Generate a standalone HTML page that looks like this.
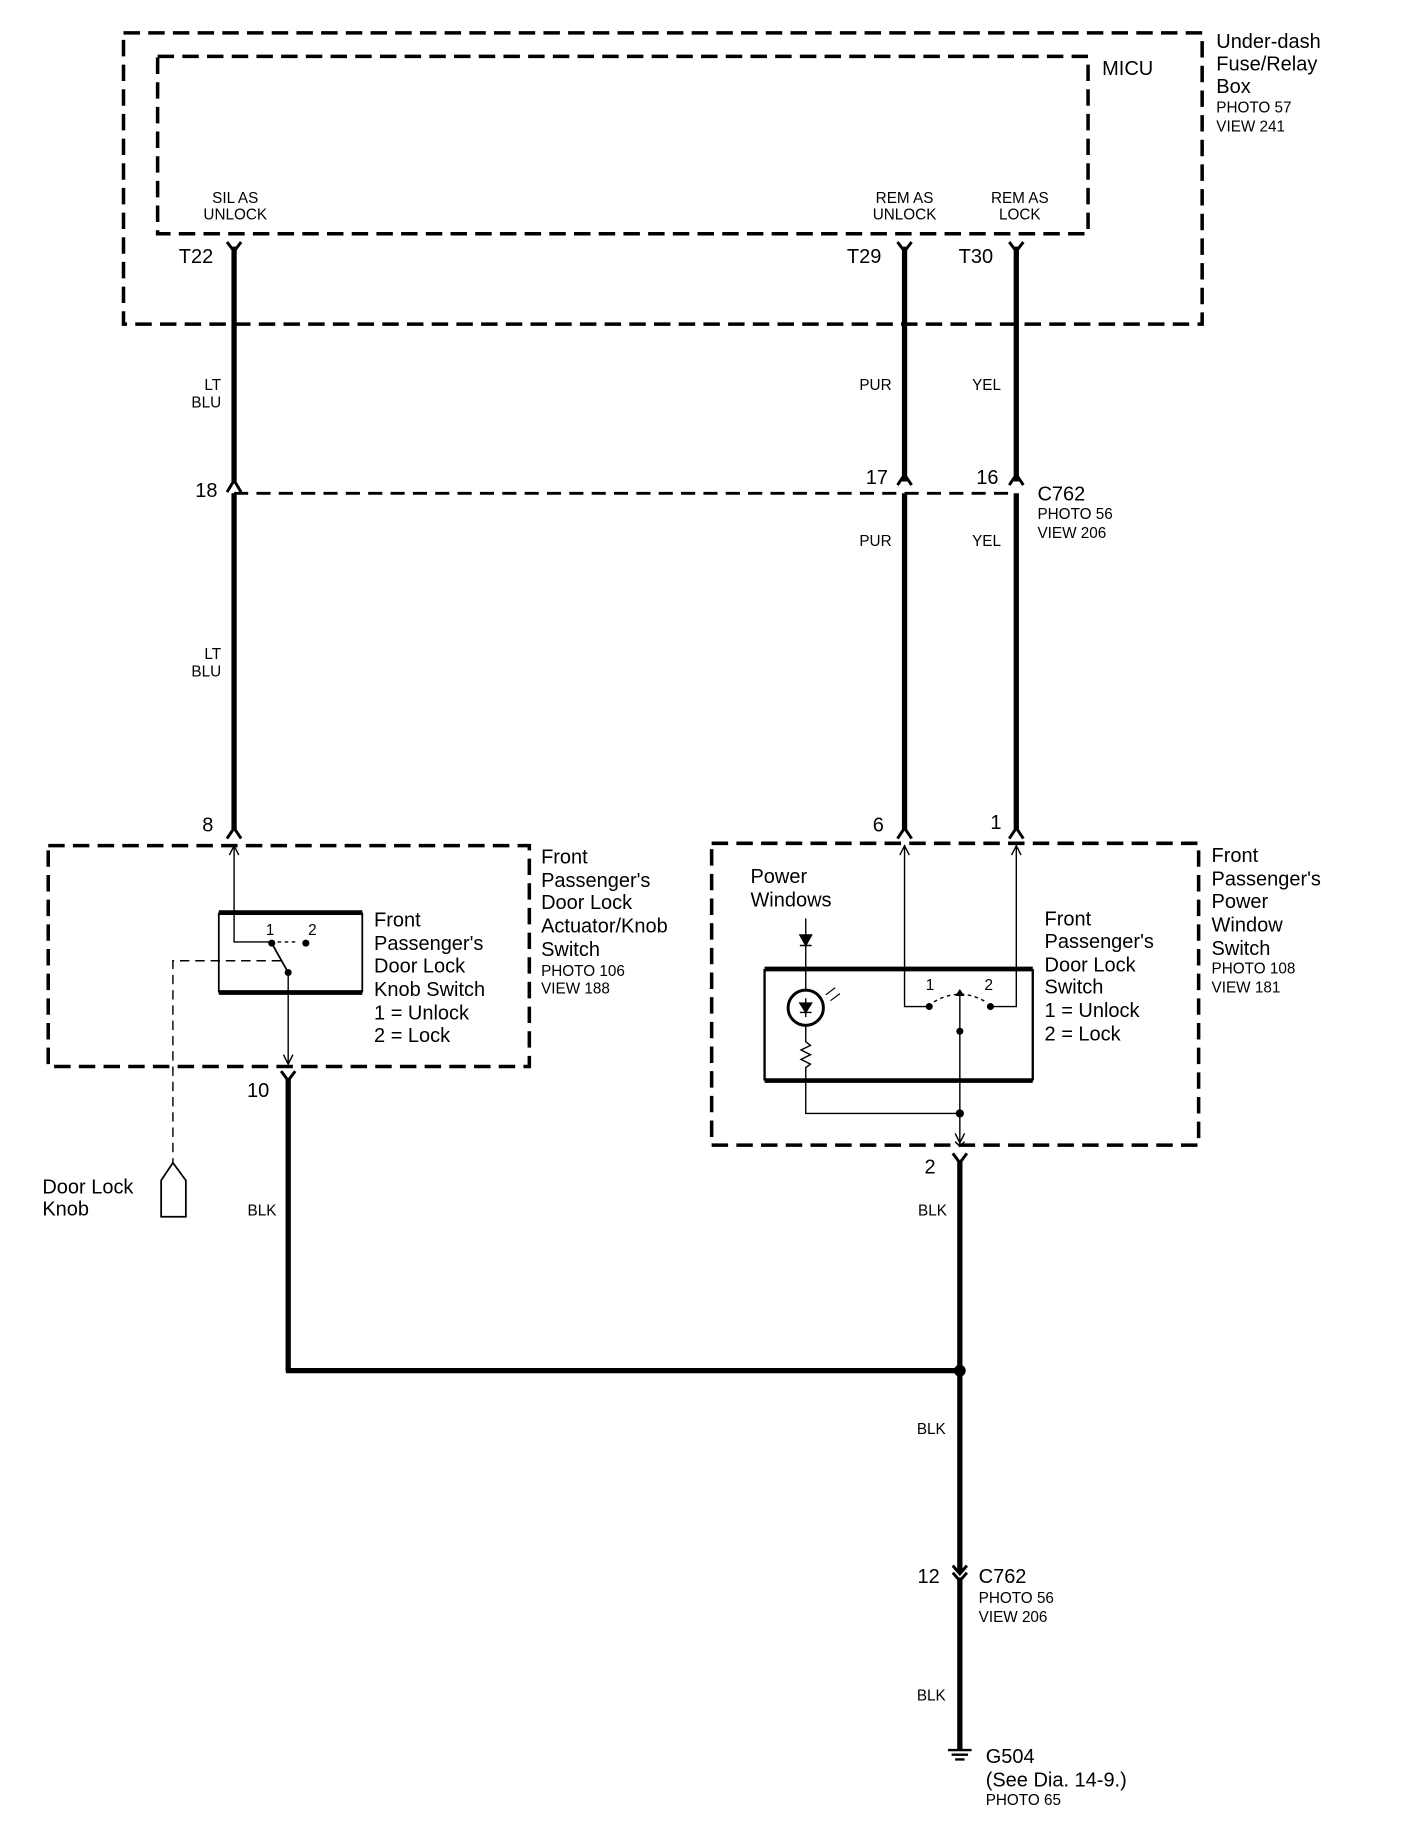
<!DOCTYPE html>
<html><head><meta charset="utf-8"><style>
html,body{margin:0;padding:0;background:#fff;}
svg{display:block;}
text{font-family:"Liberation Sans",sans-serif;fill:#000;}
.b{font-size:17px;}
.s{font-size:13px;}
</style></head><body>
<svg width="1408" height="1844" viewBox="0 0 1197 1570" preserveAspectRatio="none" xmlns="http://www.w3.org/2000/svg">
<g fill="none" stroke="#000">
<rect x="105" y="28" width="917" height="248" stroke-width="3" stroke-dasharray="14,7"/>
<rect x="134" y="48" width="791" height="151" stroke-width="3" stroke-dasharray="14,7"/>
<rect x="41" y="720" width="409" height="188" stroke-width="3" stroke-dasharray="14,7"/>
<rect x="605" y="718" width="414" height="257" stroke-width="3" stroke-dasharray="14,7"/>
<line x1="199" y1="420" x2="864" y2="420" stroke-width="2.5" stroke-dasharray="12,7"/>
<g stroke-width="4.5">
<line x1="199" y1="210" x2="199" y2="410"/>
<line x1="199" y1="420" x2="199" y2="706"/>
<line x1="769" y1="210" x2="769" y2="410"/>
<line x1="769" y1="420" x2="769" y2="706"/>
<line x1="864" y1="210" x2="864" y2="410"/>
<line x1="864" y1="420" x2="864" y2="706"/>
<line x1="245" y1="918" x2="245" y2="1167"/>
<line x1="243" y1="1167" x2="818" y2="1167"/>
<line x1="816" y1="988" x2="816" y2="1338"/>
<line x1="816" y1="1343" x2="816" y2="1490"/>
</g>
<g stroke-width="2.5">
<path d="M193,206 L199,214 L205,206"/>
<path d="M763,206 L769,214 L775,206"/>
<path d="M858,206 L864,214 L870,206"/>
<path d="M193,419 L199,409 L205,419"/>
<path d="M763,413 L769,404 L775,413"/>
<path d="M858,413 L864,404 L870,413"/>
<path d="M193,714 L199,705 L205,714"/>
<path d="M763,714 L769,705 L775,714"/>
<path d="M858,714 L864,705 L870,714"/>
<path d="M239,912 L245,920 L251,912"/>
<path d="M810,982 L816,990 L822,982"/>
<path d="M810,1333 L816,1340 L822,1333"/>
<path d="M810,1339 L816,1346 L822,1339"/>
</g>
<line x1="186" y1="777" x2="308" y2="777" stroke-width="4"/>
<line x1="186" y1="845" x2="308" y2="845" stroke-width="4"/>
<line x1="186" y1="777" x2="186" y2="845" stroke-width="1.5"/>
<line x1="308" y1="777" x2="308" y2="845" stroke-width="1.5"/>
<path d="M199,720 L199,802 L231,802" stroke-width="1.2"/>
<path d="M195,728 L199,720 L203,728" stroke-width="1.2"/>
<line x1="231" y1="803" x2="245" y2="828" stroke-width="1.5"/>
<line x1="236" y1="802" x2="254" y2="802" stroke-width="1.2" stroke-dasharray="3,3"/>
<line x1="245" y1="828" x2="245" y2="906" stroke-width="1.2"/>
<path d="M241,898 L245,906 L249,898" stroke-width="1.2"/>
<path d="M239,818 L147,818 L147,990" stroke-width="1.2" stroke-dasharray="8,5"/>
<path d="M137,1036 L137,1005 L147,990 L158,1005 L158,1036 Z" stroke-width="1.5"/>
<line x1="650" y1="825" x2="878" y2="825" stroke-width="4"/>
<line x1="650" y1="920" x2="878" y2="920" stroke-width="4"/>
<line x1="650" y1="825" x2="650" y2="920" stroke-width="2"/>
<line x1="878" y1="825" x2="878" y2="920" stroke-width="2"/>
<path d="M769,720 L769,857 L790,857" stroke-width="1.2"/>
<path d="M765,728 L769,720 L773,728" stroke-width="1.2"/>
<path d="M864,720 L864,857 L842,857" stroke-width="1.2"/>
<path d="M860,728 L864,720 L868,728" stroke-width="1.2"/>
<path d="M794,853 Q816,840 838,853" stroke-width="1.2" stroke-dasharray="3,3"/>
<line x1="816" y1="848" x2="816" y2="972" stroke-width="1.2"/>
<path d="M812,972 L816,976 L820,972 M812,965 L816,973 L820,965" stroke-width="1.2"/>
<line x1="685" y1="782" x2="685" y2="843" stroke-width="1.2"/>
<path d="M680,796 L690,796 L685,805 Z M680,805 L690,805" fill="#000" stroke-width="1.2"/>
<circle cx="685" cy="858" r="15" stroke-width="2.5"/>
<path d="M680,854 L690,854 L685,862 Z M680,862 L690,862" fill="#000" stroke-width="1.2"/>
<line x1="685" y1="850" x2="685" y2="866" stroke-width="1.2"/>
<path d="M702,847 L710,841 M706,852 L714,846" stroke-width="1"/>
<path d="M685,873 L685,887 L689,890 L681,894 L689,898 L681,902 L689,906 L685,909 L685,948 L816,948" stroke-width="1.2"/>
<path d="M806,1490 L826,1490 M809,1494 L823,1494 M812,1498 L820,1498" stroke-width="2"/>
</g>
<g fill="#000">
<circle cx="231" cy="803" r="3"/><circle cx="260" cy="803" r="3"/><circle cx="245" cy="828" r="3"/>
<circle cx="790" cy="857" r="3"/><circle cx="842" cy="857" r="3"/><circle cx="816" cy="878" r="3"/>
<circle cx="816" cy="948" r="3.5"/><circle cx="816" cy="1167" r="5"/>
<path d="M812,848 L816,842 L820,848 Z"/>
</g>
<text class="b" x="937" y="64">MICU</text>
<text class="b" x="1034" y="41">Under-dash</text>
<text class="b" x="1034" y="60">Fuse/Relay</text>
<text class="b" x="1034" y="79">Box</text>
<text class="s" x="1034" y="96">PHOTO 57</text>
<text class="s" x="1034" y="112">VIEW 241</text>
<g class="s" text-anchor="middle">
<text x="200" y="173">SIL AS</text><text x="200" y="187">UNLOCK</text>
<text x="769" y="173">REM AS</text><text x="769" y="187">UNLOCK</text>
<text x="867" y="173">REM AS</text><text x="867" y="187">LOCK</text>
</g>
<text class="b" x="152" y="224">T22</text>
<text class="b" x="720" y="224">T29</text>
<text class="b" x="815" y="224">T30</text>
<g class="s" text-anchor="end">
<text x="188" y="332">LT</text><text x="188" y="347">BLU</text>
<text x="758" y="332">PUR</text><text x="851" y="332">YEL</text>
<text x="758" y="465">PUR</text><text x="851" y="465">YEL</text>
<text x="188" y="561">LT</text><text x="188" y="576">BLU</text>
<text x="235" y="1035">BLK</text>
<text x="805" y="1035">BLK</text>
<text x="804" y="1221">BLK</text>
<text x="804" y="1448">BLK</text>
</g>
<text class="b" x="166" y="423">18</text>
<text class="b" x="736" y="412">17</text>
<text class="b" x="830" y="412">16</text>
<text class="b" x="882" y="426">C762</text>
<text class="s" x="882" y="442">PHOTO 56</text>
<text class="s" x="882" y="458">VIEW 206</text>
<text class="b" x="172" y="708">8</text>
<text class="b" x="742" y="708">6</text>
<text class="b" x="842" y="706">1</text>
<text class="b" x="460" y="735">Front</text>
<text class="b" x="460" y="755">Passenger's</text>
<text class="b" x="460" y="774">Door Lock</text>
<text class="b" x="460" y="794">Actuator/Knob</text>
<text class="b" x="460" y="814">Switch</text>
<text class="s" x="460" y="831">PHOTO 106</text>
<text class="s" x="460" y="846">VIEW 188</text>
<text class="s" x="226" y="796">1</text>
<text class="s" x="262" y="796">2</text>
<text class="b" x="318" y="789">Front</text>
<text class="b" x="318" y="809">Passenger's</text>
<text class="b" x="318" y="828">Door Lock</text>
<text class="b" x="318" y="848">Knob Switch</text>
<text class="b" x="318" y="868">1 = Unlock</text>
<text class="b" x="318" y="887">2 = Lock</text>
<text class="b" x="210" y="934">10</text>
<text class="b" x="36" y="1016">Door Lock</text>
<text class="b" x="36" y="1035">Knob</text>
<text class="b" x="638" y="752">Power</text>
<text class="b" x="638" y="772">Windows</text>
<text class="s" x="787" y="843">1</text>
<text class="s" x="837" y="843">2</text>
<text class="b" x="888" y="788">Front</text>
<text class="b" x="888" y="807">Passenger's</text>
<text class="b" x="888" y="827">Door Lock</text>
<text class="b" x="888" y="846">Switch</text>
<text class="b" x="888" y="866">1 = Unlock</text>
<text class="b" x="888" y="886">2 = Lock</text>
<text class="b" x="1030" y="734">Front</text>
<text class="b" x="1030" y="754">Passenger's</text>
<text class="b" x="1030" y="773">Power</text>
<text class="b" x="1030" y="793">Window</text>
<text class="b" x="1030" y="813">Switch</text>
<text class="s" x="1030" y="829">PHOTO 108</text>
<text class="s" x="1030" y="845">VIEW 181</text>
<text class="b" x="786" y="999">2</text>
<text class="b" x="780" y="1348">12</text>
<text class="b" x="832" y="1348">C762</text>
<text class="s" x="832" y="1365">PHOTO 56</text>
<text class="s" x="832" y="1381">VIEW 206</text>
<text class="b" x="838" y="1501">G504</text>
<text class="b" x="838" y="1521">(See Dia. 14-9.)</text>
<text class="s" x="838" y="1537">PHOTO 65</text>
</svg>
</body></html>
